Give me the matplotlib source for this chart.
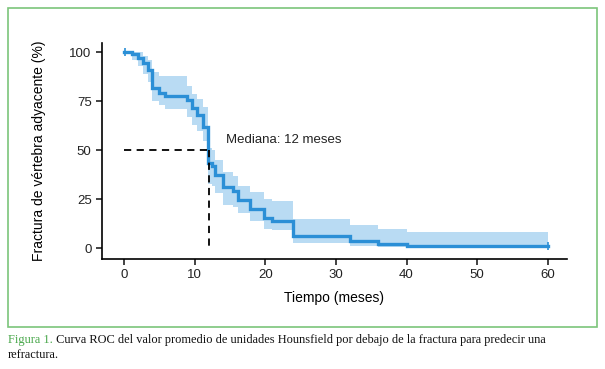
import matplotlib.pyplot as plt
from matplotlib.patches import Rectangle

# Kaplan-Meier steps (months, %)
tiempo = [0, 1.1, 2.0, 2.7, 3.4, 4.0, 4.9, 5.8, 8.9, 9.7, 10.3, 11.2, 11.9, 12.5,
          12.9, 14.0, 15.5, 16.2, 17.8, 19.9, 21.0, 24.0, 32.0, 36.0, 40.0, 60.0]
superv = [100, 99, 97, 94.5, 91, 81.7, 79.2, 77.9, 75.7, 71.5, 68, 62.1, 43.4, 42,
          37.4, 31.5, 29.5, 24.5, 20, 15.5, 14.2, 6.5, 3.9, 2.2, 1.2, 1.2]
ic_sup = [100, 100, 100, 98, 96, 90, 88, 88, 83, 79, 76, 72, 51, 50,
          45, 39, 37, 32, 29, 25, 24, 15, 12, 9.7, 8.5, 8.5]
ic_inf = [100, 96, 93, 89, 85, 75, 73, 71, 67, 63, 60, 55, 33, 32,
          28, 22, 21, 18, 14, 10, 9.3, 2.5, 1.3, 0.8, 0.6, 0.6]
mediana = 12
xticks = [0, 10, 20, 30, 40, 50, 60]
yticks = [0, 25, 50, 75, 100]

plt.rcParams['font.family'] = ['Liberation Sans', 'DejaVu Sans']

fig = plt.figure(figsize=(6.05, 3.69), dpi=100)
ax = fig.add_axes([0.1686, 0.2989, 0.7684, 0.5854])

# confidence band + curve
ax.fill_between(tiempo, ic_inf, ic_sup, step='post', color='#b9dbf3', linewidth=0)
ax.step(tiempo, superv, where='post', color='#2b8fd6', linewidth=2.4, solid_joinstyle='miter')
# censor marks
ax.plot([tiempo[0] + 0.2, tiempo[-1]], [superv[0], superv[-1]], marker='|', markersize=6,
        color='#2b8fd6', linestyle='none', markeredgewidth=1.2)

# median
ax.plot([0, mediana], [50, 50], color='black', linestyle=(0, (4, 3)), linewidth=1.3)
ax.plot([mediana, mediana], [50, 0], color='black', linestyle=(0, (4, 3)), linewidth=1.3)
ax.text(14.4, 55.3, 'Mediana: 12 meses', fontsize=9.5, va='center', ha='left', color='#222222')

ax.set_xlim(-3.1, 62.7)
ax.set_ylim(-5.3, 105)
ax.set_xticks(xticks)
ax.set_yticks(yticks)
ax.tick_params(labelsize=9.5, length=4, width=1.2, colors='#222222')
for s in ['top', 'right']:
    ax.spines[s].set_visible(False)
for s in ['left', 'bottom']:
    ax.spines[s].set_linewidth(1.2)
ax.set_xlabel('Tiempo (meses)', fontsize=10, labelpad=7)
ax.set_ylabel('Fractura de vértebra adyacente (%)', fontsize=10, labelpad=17)

# green frame
fig.add_artist(Rectangle((8 / 605, 1 - 327 / 369), 589 / 605, 319 / 369, transform=fig.transFigure,
                         fill=False, edgecolor='#7cc57a', linewidth=1.2))

# caption
serif = ['Liberation Serif', 'DejaVu Serif']
t1 = fig.text(8 / 605, 1 - 340 / 369, 'Figura 1.', color='#4aa84c', fontsize=8.95,
              family=serif, va='center')
ax.annotate(' Curva ROC del valor promedio de unidades Hounsfield por debajo de la fractura para predecir una',
            xy=(1, 0), xycoords=t1, va='bottom', ha='left', fontsize=8.95, family=serif,
            color='#111111', annotation_clip=False)
fig.text(8 / 605, 1 - 355 / 369, 'refractura.', color='#111111', fontsize=8.95, family=serif, va='center')

fig.savefig('out.png', dpi=100)
